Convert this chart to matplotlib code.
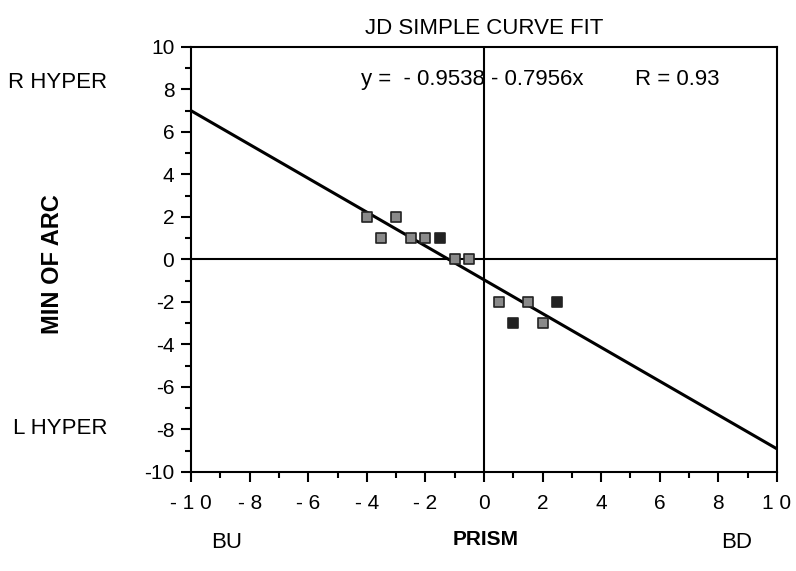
import numpy as np
import matplotlib
matplotlib.use("Agg")
import matplotlib.pyplot as plt

plt.rcParams['font.family'] = ['Liberation Sans', 'DejaVu Sans']
plt.rcParams['axes.unicode_minus'] = False

# data
prism = [-4, -3, -3.5, -2.5, -2, -1.5, -1, -0.5, 0.5, 1.5, 2.5, 1, 2]
min_arc = [2, 2, 1, 1, 1, 1, 0, 0, -2, -2, -2, -3, -3]
dark = [False, False, False, False, False, True, False, False, False, False, True, True, False]

# fit as printed on the chart
intercept = -0.9538
slope = -0.7956
r_value = 0.93

xticks = [-10, -8, -6, -4, -2, 0, 2, 4, 6, 8, 10]
xtick_labels = ['- 1 0', '- 8', '- 6', '- 4', '- 2', '0', '2', '4', '6', '8', '1 0']
yticks = [-10, -8, -6, -4, -2, 0, 2, 4, 6, 8, 10]

fig = plt.figure(figsize=(7.96, 5.71), dpi=100)
ax = fig.add_axes([0.24, 0.1734, 0.736, 0.7443])

# fit line across full range
xl = np.array([-10, 10])
ax.plot(xl, intercept + slope * xl, color='black', lw=2.2, zorder=2)

# crosshair lines
ax.axhline(0, color='black', lw=1.5, zorder=1)
ax.axvline(0, color='black', lw=1.5, zorder=1)

# points
for x, y, d in zip(prism, min_arc, dark):
    ax.scatter(x, y, marker='s', s=42, facecolor='#222222' if d else '#8a8a8a',
               edgecolor='#222222', linewidths=1.2, zorder=3)

ax.set_xlim(-10, 10)
ax.set_ylim(-10, 10)
ax.set_xticks(xticks)
ax.set_xticklabels(xtick_labels)
ax.set_yticks(yticks)
ax.set_xticks(np.arange(-9, 10, 2), minor=True)
ax.set_yticks(np.arange(-9, 10, 2), minor=True)
ax.tick_params(which='major', direction='out', length=7, width=1.5, labelsize=15, pad=5)
ax.tick_params(axis='x', which='major', pad=9)
ax.tick_params(which='minor', direction='out', length=4, width=1.5)
for s in ax.spines.values():
    s.set_linewidth(1.5)

ax.set_title('JD SIMPLE CURVE FIT', fontsize=16, pad=9)
ax.text(-4.2, 8.45, 'y =  - %.4f - %.4fx' % (-intercept, -slope), fontsize=16, va='center')
ax.text(5.15, 8.45, 'R = %.2f' % r_value, fontsize=16, va='center')

fig.text(0.61, 0.045, 'PRISM', fontsize=15, fontweight='bold', ha='center')
fig.text(0.066, 0.538, 'MIN OF ARC', fontsize=17, fontweight='bold', rotation=90,
         ha='center', va='center')
fig.text(0.01, 0.855, 'R HYPER', fontsize=16, va='center')
fig.text(0.016, 0.25, 'L HYPER', fontsize=16, va='center')
fig.text(0.285, 0.04, 'BU', fontsize=16, ha='center')
fig.text(0.925, 0.04, 'BD', fontsize=16, ha='center')

fig.savefig('out.png', dpi=100)
